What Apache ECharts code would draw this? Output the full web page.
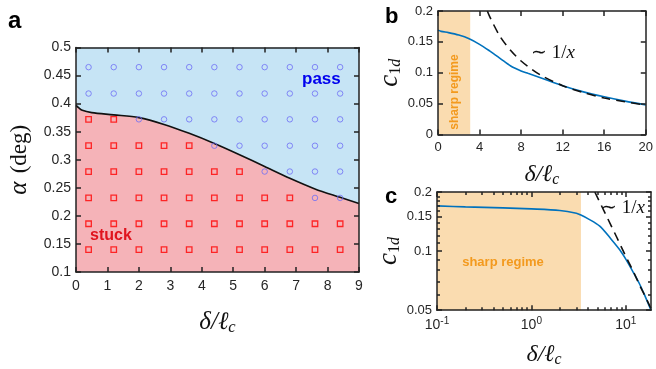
<!DOCTYPE html>
<html><head><meta charset="utf-8">
<script src="https://cdn.jsdelivr.net/npm/echarts@6/dist/echarts.min.js"></script>
<style>html,body{margin:0;padding:0;background:#fff}#c{width:656px;height:369px}</style>
</head><body><div id="c"></div><script>
// ---- Panel a data ----
const deltaGrid = [0.4, 1.2, 2.0, 2.8, 3.6, 4.4, 5.2, 6.0, 6.8, 7.6, 8.4];
const alphaGrid = [0.14, 0.186, 0.232, 0.279, 0.325, 0.372, 0.418, 0.465];
const outcome = ['SSSSSSSSSSS','SSSSSSSSSSS','SSSSSSSSSPP','SSSSSSSPPPP','SSSSSPPPPPP','SSPPPPPPPPP','PPPPPPPPPPP','PPPPPPPPPPP'];
const boundaryX = [0, 0.08, 0.2, 0.5, 1.2, 2.0, 2.8, 3.6, 4.4, 5.2, 6.0, 6.8, 7.6, 8.4, 9.0];
const boundaryY = [0.397, 0.393, 0.388, 0.384, 0.380, 0.375, 0.363, 0.347, 0.329, 0.309, 0.288, 0.267, 0.248, 0.233, 0.222];
// ---- Panel b data ----
const bX = [0, 0.3, 1, 2, 3, 4, 5, 5.5, 6, 7, 8, 8.65, 10, 12, 14, 16, 18, 20];
const bY = [0.169, 0.167, 0.165, 0.161, 0.155, 0.146, 0.135, 0.129, 0.123, 0.111, 0.103, 0.099, 0.091, 0.079, 0.069, 0.061, 0.054, 0.048];
const bDashX = [4.75, 5, 6, 7, 8, 9, 10, 12, 14, 16, 18, 20];
const bDashY = [0.2, 0.19, 0.158, 0.136, 0.119, 0.106, 0.095, 0.079, 0.068, 0.059, 0.053, 0.0475];
const bSharp = [0, 3.1];
// ---- Panel c data ----
const cX = [0.1, 0.2, 0.5, 1, 2, 3, 3.3, 4, 5.3, 7, 8.7, 10, 12, 14, 16, 18.5];
const cY = [0.170, 0.168, 0.166, 0.164, 0.161, 0.156, 0.153, 0.146, 0.134, 0.115, 0.101, 0.091, 0.078, 0.068, 0.059, 0.050];
const cDashX = [4.7, 6, 8, 10, 12, 14, 16, 18.5];
const cDashY = [0.2, 0.157, 0.118, 0.094, 0.079, 0.067, 0.059, 0.051];
const cSharp = [0.1, 3.35];
const cXMajor = [0.1, 1, 10];
const cXMinor = [0.2,0.3,0.4,0.5,0.6,0.7,0.8,0.9,2,3,4,5,6,7,8,9];
const cYMajor = [0.05, 0.1, 0.15, 0.2];
const cYMinor = [0.06,0.07,0.08,0.09,0.11,0.12,0.13,0.14,0.16,0.17,0.18,0.19];

const zip = (a, b) => a.map((v, i) => [v, b[i]]);
const passPts = [], stuckPts = [];
alphaGrid.forEach((al, r) => deltaGrid.forEach((d, c) => {
  (outcome[r][c] === 'P' ? passPts : stuckPts).push([d, al]);
}));

const AX = '#222';
const SANS = 'Liberation Sans, Arial, Helvetica, sans-serif';
const SERIF = 'Liberation Serif, Times New Roman, serif';
const lbl = (size, extra) => Object.assign({ color: '#262626', fontFamily: SANS, fontSize: size }, extra || {});
const tick = (len, vals) => Object.assign({ show: true, inside: true, length: len, lineStyle: { color: AX, width: 1.5 } },
  vals ? { customValues: vals } : {});

function mainAxis(o) {
  return Object.assign({
    z: 5,
    splitLine: { show: false },
    axisLine: { show: true, onZero: false, lineStyle: { color: AX, width: 1.5 } },
    axisTick: tick(5),
  }, o);
}
function mirrorAxis(o) {
  return mainAxis(Object.assign({ axisLabel: { show: false } }, o));
}
function minorAxis(o) {
  return Object.assign({ z: 5, type: 'log', logBase: 10, gridIndex: 2, splitLine: { show: false },
    axisLine: { show: false }, axisLabel: { show: false } }, o);
}

const xName = (size) => ({
  name: '{d|δ/ℓ}{s|c}', nameLocation: 'middle',
  nameTextStyle: { rich: {
    d: { fontFamily: SERIF, fontStyle: 'italic', fontSize: size, color: '#111' },
    s: { fontFamily: SERIF, fontStyle: 'italic', fontSize: size * 0.66, color: '#111', padding: [size * 0.45, 0, 0, 0] }
  } }
});
const cName = {
  name: '{c|c}{n|1}{d|d}', nameLocation: 'middle', nameRotate: 90,
  nameTextStyle: { rich: {
    c: { fontFamily: SERIF, fontStyle: 'italic', fontSize: 27, color: '#111' },
    n: { fontFamily: SERIF, fontSize: 16, color: '#111', padding: [12, 0, 0, 0] },
    d: { fontFamily: SERIF, fontStyle: 'italic', fontSize: 16, color: '#111', padding: [12, 0, 0, 0] }
  } }
};

const option = {
  animation: false,
  backgroundColor: '#fff',
  grid: [
    { left: 76, right: 297, top: 47.5, bottom: 97, show: true, backgroundColor: '#C6E4F5', borderWidth: 0 },
    { left: 438, right: 5, top: 11, bottom: 234.5 },
    { left: 437, right: 5, top: 192, bottom: 57 }
  ],
  xAxis: [
    mainAxis(Object.assign({ gridIndex: 0, type: 'value', min: 0, max: 9, interval: 1, position: 'bottom',
      axisLabel: lbl(14, { margin: 7 }), nameGap: 36 }, xName(25))),
    mirrorAxis({ gridIndex: 0, type: 'value', min: 0, max: 9, interval: 1, position: 'top' }),
    mainAxis(Object.assign({ gridIndex: 1, type: 'value', min: 0, max: 20, interval: 4, position: 'bottom',
      axisLabel: lbl(13, { margin: 6 }), nameGap: 27 }, xName(24))),
    mirrorAxis({ gridIndex: 1, type: 'value', min: 0, max: 20, interval: 4, position: 'top' }),
    mainAxis(Object.assign({ gridIndex: 2, type: 'log', logBase: 10, min: 0.1, max: 18.5, position: 'bottom',
      axisTick: tick(5, cXMajor),
      axisLabel: Object.assign(lbl(13, { margin: 6 }), {
        customValues: cXMajor,
        formatter: v => '{m|10}{e|' + Math.round(Math.log10(v)) + '}',
        rich: { m: lbl(14), e: lbl(10, { padding: [0, 0, 8, 0] }) }
      }), nameGap: 31 }, xName(24))),
    mirrorAxis({ gridIndex: 2, type: 'log', logBase: 10, min: 0.1, max: 18.5, position: 'top', axisTick: tick(5, cXMajor) }),
    minorAxis({ min: 0.1, max: 18.5, position: 'bottom', axisTick: tick(3, cXMinor) }),
    minorAxis({ min: 0.1, max: 18.5, position: 'top', axisTick: tick(3, cXMinor) })
  ],
  yAxis: [
    mainAxis({ gridIndex: 0, type: 'value', min: 0.1, max: 0.5, interval: 0.05, position: 'left',
      axisLabel: lbl(14, { margin: 5 }),
      name: '{a|α} {p|(deg)}', nameLocation: 'middle', nameRotate: 90, nameGap: 44,
      nameTextStyle: { rich: {
        a: { fontFamily: SERIF, fontStyle: 'italic', fontSize: 25, color: '#111' },
        p: { fontFamily: SERIF, fontSize: 23, color: '#111', padding: [0, 0, 0, 5] } } } }),
    mirrorAxis({ gridIndex: 0, type: 'value', min: 0.1, max: 0.5, interval: 0.05, position: 'right' }),
    mainAxis(Object.assign({ gridIndex: 1, type: 'value', min: 0, max: 0.2, interval: 0.05, position: 'left',
      axisLabel: lbl(13, { margin: 5 }), nameGap: 34 }, cName)),
    mirrorAxis({ gridIndex: 1, type: 'value', min: 0, max: 0.2, interval: 0.05, position: 'right' }),
    mainAxis(Object.assign({ gridIndex: 2, type: 'log', logBase: 10, min: 0.05, max: 0.2, position: 'left',
      axisTick: tick(5, cYMajor),
      axisLabel: Object.assign(lbl(13, { margin: 5 }), { customValues: cYMajor, formatter: v => String(+v.toFixed(2)) }),
      nameGap: 34 }, cName)),
    mirrorAxis({ gridIndex: 2, type: 'log', logBase: 10, min: 0.05, max: 0.2, position: 'right', axisTick: tick(5, cYMajor) }),
    minorAxis({ min: 0.05, max: 0.2, position: 'left', axisTick: tick(3, cYMinor) }),
    minorAxis({ min: 0.05, max: 0.2, position: 'right', axisTick: tick(3, cYMinor) })
  ],
  series: [
    { type: 'line', xAxisIndex: 0, yAxisIndex: 0, data: zip(boundaryX, boundaryY), smooth: 0.3, showSymbol: false,
      lineStyle: { color: '#111', width: 1.6 }, areaStyle: { color: '#F5B3B8', opacity: 1, origin: 'start' }, z: 2 },
    { type: 'scatter', xAxisIndex: 0, yAxisIndex: 0, data: passPts, symbol: 'circle', symbolSize: 5.5,
      itemStyle: { color: 'rgba(0,0,0,0)', borderColor: '#6E6EF5', borderWidth: 1 }, z: 3 },
    { type: 'scatter', xAxisIndex: 0, yAxisIndex: 0, data: stuckPts, symbol: 'rect', symbolSize: 5.5,
      itemStyle: { color: 'rgba(0,0,0,0)', borderColor: '#FF0000', borderWidth: 1.3 }, z: 3 },
    { type: 'line', xAxisIndex: 2, yAxisIndex: 2, data: zip(bX, bY), smooth: 0.3, showSymbol: false,
      lineStyle: { color: '#0072BD', width: 1.6 }, z: 3,
      markArea: { silent: true, itemStyle: { color: '#FADCB0' }, data: [[{ xAxis: bSharp[0] }, { xAxis: bSharp[1] }]] } },
    { type: 'line', xAxisIndex: 2, yAxisIndex: 2, data: zip(bDashX, bDashY), smooth: 0.3, showSymbol: false,
      lineStyle: { color: '#111', width: 1.6, type: [9, 6] }, z: 4 },
    { type: 'line', xAxisIndex: 4, yAxisIndex: 4, data: zip(cX, cY), smooth: 0.3, showSymbol: false,
      lineStyle: { color: '#0072BD', width: 1.6 }, z: 3,
      markArea: { silent: true, itemStyle: { color: '#FADCB0' }, data: [[{ xAxis: cSharp[0] }, { xAxis: cSharp[1] }]] } },
    { type: 'line', xAxisIndex: 4, yAxisIndex: 4, data: zip(cDashX, cDashY), showSymbol: false,
      lineStyle: { color: '#111', width: 1.6, type: [9, 6] }, z: 4 }
  ],
  graphic: [
    { type: 'text', left: 8, top: 9, style: { text: 'a', font: 'bold 24px ' + SANS, fill: '#000' } },
    { type: 'text', left: 385, top: 6, style: { text: 'b', font: 'bold 22px ' + SANS, fill: '#000' } },
    { type: 'text', left: 385, top: 186, style: { text: 'c', font: 'bold 22px ' + SANS, fill: '#000' } },
    { type: 'text', left: 302, top: 71, z: 10, style: { text: 'pass', font: 'bold 17px ' + SANS, fill: '#0000EE' } },
    { type: 'text', left: 90, top: 228, z: 10, style: { text: 'stuck', font: 'bold 16px ' + SANS, fill: '#E0141E' } },
    { type: 'text', x: 455, y: 92, rotation: Math.PI / 2, z: 10,
      style: { text: 'sharp regime', font: 'bold 12px ' + SANS, fill: '#F39A1E', align: 'center', verticalAlign: 'middle' } },
    { type: 'text', x: 503, y: 262, z: 10,
      style: { text: 'sharp regime', font: 'bold 13px ' + SANS, fill: '#F39A1E', align: 'center', verticalAlign: 'middle' } },
    { type: 'text', x: 553, y: 53, z: 10, style: { text: '{t|∼ 1/}{i|x}', align: 'center', verticalAlign: 'middle',
      rich: { t: { fontFamily: SERIF, fontSize: 19, fill: '#111' }, i: { fontFamily: SERIF, fontStyle: 'italic', fontSize: 19, fill: '#111' } } } },
    { type: 'text', x: 623, y: 208, z: 10, style: { text: '{t|∼ 1/}{i|x}', align: 'center', verticalAlign: 'middle',
      rich: { t: { fontFamily: SERIF, fontSize: 19, fill: '#111' }, i: { fontFamily: SERIF, fontStyle: 'italic', fontSize: 19, fill: '#111' } } } }
  ]
};
const chart = echarts.init(document.getElementById('c'), null, { renderer: 'canvas' });
chart.setOption(option);
</script></body></html>
